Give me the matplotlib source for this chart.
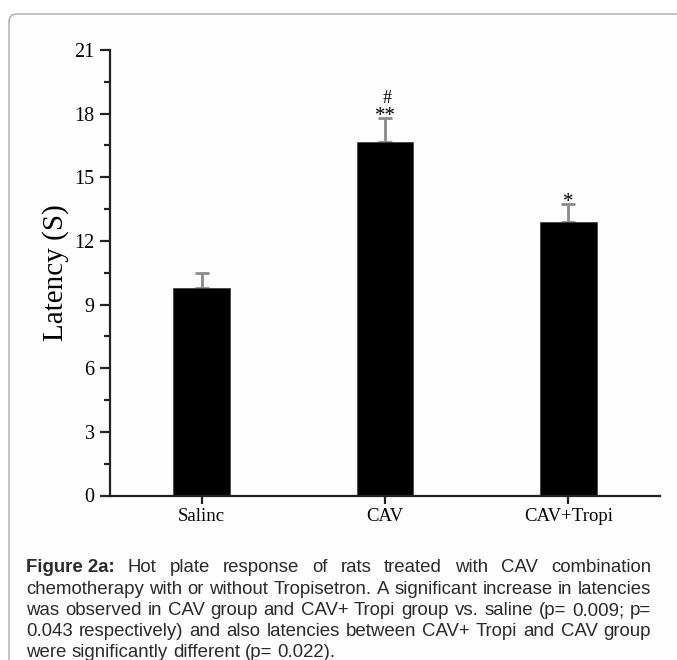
import matplotlib
matplotlib.use("Agg")
import matplotlib.pyplot as plt
from matplotlib.patches import FancyBboxPatch
from matplotlib.ticker import MultipleLocator

categories = ["Salinc", "CAV", "CAV+Tropi"]
means = [9.8, 16.65, 12.9]
errors = [0.7, 1.15, 0.85]
marks = ["", "**", "*"]
extra_marks = ["", "#", ""]
yticks = [0, 3, 6, 9, 12, 15, 18, 21]

caption_lines = [
    ["Figure 2a:", "Hot", "plate", "response", "of", "rats", "treated", "with", "CAV", "combination"],
    ["chemotherapy", "with", "or", "without", "Tropisetron.", "A", "significant", "increase", "in", "latencies"],
    ["was", "observed", "in", "CAV", "group", "and", "CAV+", "Tropi", "group", "vs.", "saline", "(p=", "0.009;", "p="],
    ["0.043", "respectively)", "and", "also", "latencies", "between", "CAV+", "Tropi", "and", "CAV", "group"],
    ["were", "significantly", "different", "(p=", "0.022)."],
]

W, H = 677, 660
fig = plt.figure(figsize=(W / 100, H / 100), dpi=100)
fig.patch.set_facecolor("white")

# panel frame
frame = FancyBboxPatch((9 / W, -0.1), 1.2, (H - 14) / H + 0.1,
                       boxstyle="round,pad=0,rounding_size=0.012",
                       transform=fig.transFigure, facecolor="#fefefe",
                       edgecolor="#a8a8a8", linewidth=1.0, zorder=-10)
fig.patches.append(frame)

ax = fig.add_axes([110 / W, 1 - 495.5 / H, (660 - 110) / W, (495.5 - 50) / H])
ax.set_facecolor("none")
x = list(range(len(categories)))
ax.bar(x, means, width=0.31, color="black", edgecolor="#444444", linewidth=0.6, zorder=2)
ax.errorbar(x, means, yerr=[[0] * len(errors), errors], fmt="none",
            ecolor="#8a8a8a", elinewidth=2.0, capsize=5, capthick=2.0, zorder=1)

serif = "Liberation Serif"
for xi, m, e, s, s2 in zip(x, means, errors, marks, extra_marks):
    if s:
        ax.text(xi, m + e - 0.4, s, ha="center", va="bottom", fontsize=15,
                family=serif, zorder=3)
    if s2:
        ax.text(xi + 0.01, m + e + 0.5, s2, ha="center", va="bottom", fontsize=13,
                family=serif, zorder=3)

ax.set_xlim(-0.5, 2.5)
ax.set_ylim(0, 21)
ax.set_yticks(yticks)
ax.yaxis.set_minor_locator(MultipleLocator(1.5))
ax.set_xticks(x)
ax.set_xticklabels(categories, family=serif, fontsize=13.5)
for lab in ax.get_yticklabels():
    lab.set_family(serif)
    lab.set_fontsize(14.5)
ax.set_ylabel("Latency (S)", family=serif, fontsize=21, labelpad=4)
for sp in ["top", "right"]:
    ax.spines[sp].set_visible(False)
for sp in ["left", "bottom"]:
    ax.spines[sp].set_linewidth(1.6)
    ax.spines[sp].set_color("#222222")
ax.tick_params(axis="y", which="major", length=7, width=1.6, direction="out", color="#222222", pad=4)
ax.tick_params(axis="y", which="minor", length=4, width=1.6, direction="out", color="#222222")
ax.tick_params(axis="x", which="major", length=6, width=1.6, direction="out", color="#222222", pad=3)

# caption, justified
fig.canvas.draw()
renderer = fig.canvas.get_renderer()
left_px, right_px = 26, 651
line_base = [572, 593.5, 615, 636.5, 657]
fs = 13.4
for li, (words, yy) in enumerate(zip(caption_lines, line_base)):
    texts = []
    widths = []
    for w in words:
        bold = w.startswith("Figure")
        t = fig.text(0, 1 - yy / H, w, fontsize=fs, family="Liberation Sans",
                     weight="bold" if bold else "normal", color="#2a2a2a",
                     va="baseline", ha="left")
        texts.append(t)
        widths.append(t.get_window_extent(renderer).width)
    if li < len(caption_lines) - 1:
        gap = (right_px - left_px - sum(widths)) / (len(words) - 1)
    else:
        sp = fig.text(0, 0, "a a", fontsize=fs, family="Liberation Sans")
        sp2 = fig.text(0, 0, "aa", fontsize=fs, family="Liberation Sans")
        gap = sp.get_window_extent(renderer).width - sp2.get_window_extent(renderer).width
        sp.remove(); sp2.remove()
    cur = left_px
    for t, wd in zip(texts, widths):
        t.set_x(cur / W)
        cur += wd + gap

fig.savefig("out.png", dpi=100, facecolor="white")
